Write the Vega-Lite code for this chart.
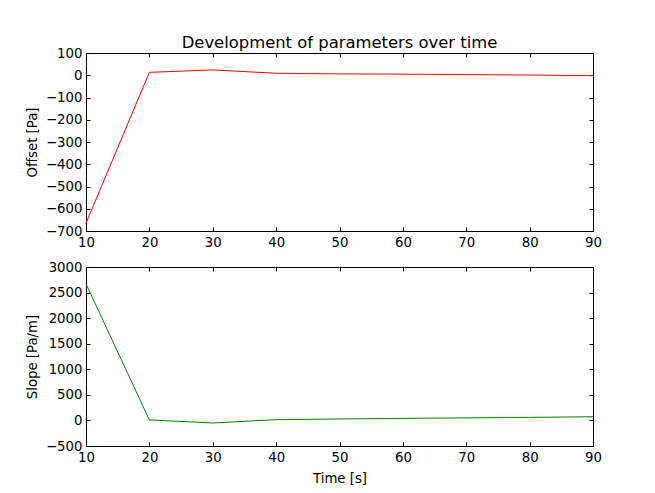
{
  "$schema": "https://vega.github.io/schema/vega-lite/v6.json",
  "autosize": {"type": "none"},
  "padding": {"left": 86, "top": 53, "right": 569, "bottom": 440},
  "background": "white",
  "bounds": "flush",
  "spacing": 36,
  "config": {
    "font": "DejaVu Sans",
    "view": {"stroke": "black", "strokeWidth": 1},
    "axis": {
      "labelFont": "DejaVu Sans",
      "labelFontSize": 13.3,
      "labelColor": "black",
      "titleFont": "DejaVu Sans",
      "titleFontSize": 13.3,
      "titleFontWeight": "normal",
      "titleColor": "black",
      "domainColor": "black",
      "tickColor": "black",
      "tickSize": -4,
      "labelPadding": 8,
      "labelFlush": false,
      "labelOverlap": false,
      "grid": false
    }
  },
  "datasets": {
    "offset": [
      {"t": 10, "v": -665}, {"t": 20, "v": 13}, {"t": 30, "v": 24}, {"t": 40, "v": 9},
      {"t": 50, "v": 6}, {"t": 60, "v": 5}, {"t": 70, "v": 3}, {"t": 80, "v": 1}, {"t": 90, "v": -2}
    ],
    "slope": [
      {"t": 10, "v": 2670}, {"t": 20, "v": 10}, {"t": 30, "v": -50}, {"t": 40, "v": 15},
      {"t": 50, "v": 28}, {"t": 60, "v": 40}, {"t": 70, "v": 50}, {"t": 80, "v": 60}, {"t": 90, "v": 72}
    ]
  },
  "vconcat": [
    {
      "width": 507,
      "height": 178,
      "title": {"text": "Development of parameters over time", "font": "DejaVu Sans", "fontSize": 16.4, "fontWeight": "normal", "color": "black", "frame": "group", "anchor": "middle", "offset": -5},
      "data": {"name": "offset"},
      "layer": [
        {
          "mark": {"type": "line", "color": "#ff0000", "strokeWidth": 1},
          "encoding": {
            "x": {"field": "t", "type": "quantitative", "scale": {"domain": [10, 90], "nice": false, "zero": false},
              "axis": {"orient": "bottom", "title": null, "values": [10, 20, 30, 40, 50, 60, 70, 80, 90], "format": "d"}},
            "y": {"field": "v", "type": "quantitative", "scale": {"domain": [-700, 100], "nice": false, "zero": false},
              "axis": {"orient": "left", "title": "Offset [Pa]", "values": [-700, -600, -500, -400, -300, -200, -100, 0, 100], "format": "d", "titlePadding": 6}}
          }
        },
        {
          "mark": {"type": "line", "opacity": 0},
          "encoding": {
            "x": {"field": "t", "type": "quantitative",
              "axis": {"orient": "top", "title": null, "labels": false, "values": [10, 20, 30, 40, 50, 60, 70, 80, 90]}},
            "y": {"field": "v", "type": "quantitative",
              "axis": {"orient": "right", "title": null, "labels": false, "values": [-700, -600, -500, -400, -300, -200, -100, 0, 100]}}
          }
        }
      ],
      "resolve": {"axis": {"x": "independent", "y": "independent"}}
    },
    {
      "width": 507,
      "height": 179,
      "data": {"name": "slope"},
      "layer": [
        {
          "mark": {"type": "line", "color": "#008000", "strokeWidth": 1},
          "encoding": {
            "x": {"field": "t", "type": "quantitative", "scale": {"domain": [10, 90], "nice": false, "zero": false},
              "axis": {"orient": "bottom", "title": "Time [s]", "values": [10, 20, 30, 40, 50, 60, 70, 80, 90], "format": "d", "titlePadding": 8}},
            "y": {"field": "v", "type": "quantitative", "scale": {"domain": [-500, 3000], "nice": false, "zero": false},
              "axis": {"orient": "left", "title": "Slope [Pa/m]", "values": [-500, 0, 500, 1000, 1500, 2000, 2500, 3000], "format": "d", "titlePadding": 6}}
          }
        },
        {
          "mark": {"type": "line", "opacity": 0},
          "encoding": {
            "x": {"field": "t", "type": "quantitative",
              "axis": {"orient": "top", "title": null, "labels": false, "values": [10, 20, 30, 40, 50, 60, 70, 80, 90]}},
            "y": {"field": "v", "type": "quantitative",
              "axis": {"orient": "right", "title": null, "labels": false, "values": [-500, 0, 500, 1000, 1500, 2000, 2500, 3000]}}
          }
        }
      ],
      "resolve": {"axis": {"x": "independent", "y": "independent"}}
    }
  ]
}
